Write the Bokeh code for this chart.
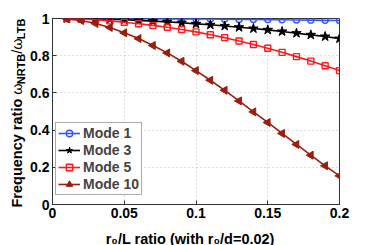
import math
from bokeh.plotting import figure
from bokeh.layouts import row, column
from bokeh.models import (Legend, LegendItem, FixedTicker, CustomJSTickFormatter, Range1d)
from bokeh.core.properties import value
from bokeh.embed import file_html
from bokeh.resources import INLINE

# ---- data ----
r0_L = [0.01, 0.02, 0.03, 0.04, 0.05, 0.06, 0.07, 0.08, 0.09, 0.10,
        0.11, 0.12, 0.13, 0.14, 0.15, 0.16, 0.17, 0.18, 0.19, 0.20]
mode1 = [1.000, 1.000, 1.000, 1.000, 0.999, 0.999, 0.999, 0.998, 0.998, 0.997,
         0.997, 0.996, 0.995, 0.995, 0.994, 0.993, 0.992, 0.991, 0.990, 0.989]
mode3 = [1.000, 0.999, 0.998, 0.996, 0.993, 0.990, 0.986, 0.982, 0.977, 0.971,
         0.966, 0.960, 0.953, 0.946, 0.939, 0.930, 0.921, 0.912, 0.903, 0.892]
mode5 = [1.000, 0.997, 0.993, 0.987, 0.980, 0.972, 0.963, 0.953, 0.941, 0.928,
         0.913, 0.897, 0.879, 0.860, 0.840, 0.818, 0.795, 0.771, 0.746, 0.720]
mode10 = [0.998, 0.989, 0.973, 0.952, 0.923, 0.892, 0.855, 0.815, 0.770, 0.720,
          0.668, 0.614, 0.557, 0.498, 0.441, 0.382, 0.323, 0.265, 0.208, 0.154]
series_names = ["Mode 1", "Mode 3", "Mode 5", "Mode 10"]
x_ticks = [0, 0.05, 0.1, 0.15, 0.2]
x_tick_labels = ["0", "0.05", "0.1", "0.15", "0.2"]
y_ticks = [0, 0.2, 0.4, 0.6, 0.8, 1.0]
y_tick_labels = ["0", "0.2", "0.4", "0.6", "0.8", "1"]
x_title = "r\u2080/L ratio (with r\u2080/d=0.02)"
y_title_parts = ["Frequency ratio ", "\u03c9", "NRTB", "/\u03c9", "LTB"]
y_title_is_sub = [False, False, True, False, True]

FONT = "Liberation Sans"
FS = 14
TITLE_FS = 14.5
SUB = 11

TOTAL_W, TOTAL_H = 374, 245
LEFT_W = 27          # strip holding the rotated y-axis title
MAIN_H = 225         # main figure height; strip below holds the x-axis title
FRAME_L, FRAME_R, FRAME_T, FRAME_B = 51, 339, 18, 204   # page coords of the plot frame

main_w = TOTAL_W - LEFT_W
p = figure(width=main_w, height=MAIN_H, output_backend="svg", toolbar_location=None,
           x_range=Range1d(0, 0.2), y_range=Range1d(0, 1),
           min_border_left=FRAME_L - LEFT_W, min_border_right=main_w - (FRAME_R - LEFT_W),
           min_border_top=FRAME_T, min_border_bottom=MAIN_H - FRAME_B)
p.background_fill_color = "white"
p.border_fill_color = "white"
p.outline_line_color = "#333333"
p.outline_line_width = 1

for ax, ticks, labels in ((p.xaxis[0], x_ticks, x_tick_labels), (p.yaxis[0], y_ticks, y_tick_labels)):
    ax.ticker = FixedTicker(ticks=ticks)
    ax.formatter = CustomJSTickFormatter(args=dict(labels=labels), code="return labels[index];")
    ax.major_label_text_font = FONT
    ax.major_label_text_font_style = "bold"
    ax.major_label_text_font_size = f"{FS}px"
    ax.major_label_text_color = "black"
    ax.major_tick_in = 4
    ax.major_tick_out = 0
    ax.minor_tick_in = 0
    ax.minor_tick_out = 0
    ax.axis_line_color = "#333333"
    ax.major_tick_line_color = "#333333"
    ax.major_label_standoff = 3
    ax.axis_label = None

p.xgrid.ticker = FixedTicker(ticks=x_ticks)
p.ygrid.ticker = FixedTicker(ticks=y_ticks)
for g in (p.xgrid[0], p.ygrid[0]):
    g.grid_line_color = "#bdbdbd"
    g.grid_line_dash = "1 3"
    g.grid_line_width = 1

colors = ["#3355ff", "#000000", "#ff1a1a", "#9a1e0c"]
l1 = p.line(r0_L, mode1, line_color=colors[0], line_width=1.6)
s1 = p.scatter(r0_L, mode1, marker="circle", size=6, line_color=colors[0], fill_alpha=0, line_width=1.4)
l3 = p.line(r0_L, mode3, line_color=colors[1], line_width=1.6)
s3 = p.scatter(r0_L, mode3, marker="star", size=10, line_color=colors[1], fill_color=colors[1])
l5 = p.line(r0_L, mode5, line_color=colors[2], line_width=1.6)
s5 = p.scatter(r0_L, mode5, marker="square", size=6, line_color=colors[2], fill_alpha=0, line_width=1.4)
l10 = p.line(r0_L, mode10, line_color=colors[3], line_width=1.6)
s10 = p.scatter(r0_L, mode10, marker="triangle", size=8, angle=math.pi / 2,
                line_color=colors[3], fill_color=colors[3])

items = [LegendItem(label=series_names[0], renderers=[l1, s1]),
         LegendItem(label=series_names[1], renderers=[l3, s3]),
         LegendItem(label=series_names[2], renderers=[l5, s5]),
         LegendItem(label=series_names[3], renderers=[l10, s10])]
legend = Legend(items=items, location=(3, 9))
legend.label_text_font = FONT
legend.label_text_font_style = "bold"
legend.label_text_font_size = f"{FS}px"
legend.label_height = 16
legend.glyph_height = 16
legend.glyph_width = 22
legend.label_standoff = 3
legend.spacing = 1
legend.padding = 2
legend.margin = 0
legend.border_line_color = "#555555"
legend.border_line_width = 1
legend.background_fill_color = "white"
legend.background_fill_alpha = 1
p.add_layout(legend, "center")

# ---- axis titles, drawn in thin strip figures ----
WID = {'F': 611, 'r': 389, 'e': 556, 'q': 611, 'u': 611, 'n': 611, 'c': 556, 'y': 556, ' ': 278,
       'a': 556, 't': 333, 'i': 278, 'o': 611, 'N': 722, 'R': 722, 'T': 611, 'B': 722, '/': 278,
       'L': 611, '\u03c9': 720}


def tw(s, size):
    return sum(WID.get(ch, 556) for ch in s) * size / 1000.0


def strip(w, h):
    f = figure(width=w, height=h, output_backend="svg", toolbar_location=None,
               x_range=Range1d(0, w), y_range=Range1d(0, h),
               x_axis_location=None, y_axis_location=None,
               min_border_left=0, min_border_right=0, min_border_top=0, min_border_bottom=0)
    f.grid.visible = False
    f.outline_line_color = None
    f.background_fill_color = "white"
    f.border_fill_color = "white"
    return f


# bottom strip: x title
bot_h = TOTAL_H - MAIN_H
bottom = strip(main_w, bot_h)
bottom.text(x=[193.5 - LEFT_W], y=[TOTAL_H - 238], text=[x_title], text_font=value(FONT),
            text_font_style="bold", text_font_size=f"{TITLE_FS}px", text_align="center",
            text_baseline="alphabetic", text_color="black")

# left strip: rotated y title
left = strip(LEFT_W, TOTAL_H)
cy = TOTAL_H - 207
for t, s in zip(y_title_parts, y_title_is_sub):
    size = SUB if s else TITLE_FS
    st = "normal" if "\u03c9" in t else "bold"
    left.text(x=[20.5 if s else 16.5], y=[cy], text=[t], angle=math.pi / 2, text_font=value(FONT),
              text_font_style=st, text_font_size=f"{size}px", text_align="left",
              text_baseline="alphabetic", text_color="black")
    cy += tw(t, size)

layout = row(left, column(p, bottom, spacing=0), spacing=0)
open("out.html", "w").write(file_html(layout, INLINE))
